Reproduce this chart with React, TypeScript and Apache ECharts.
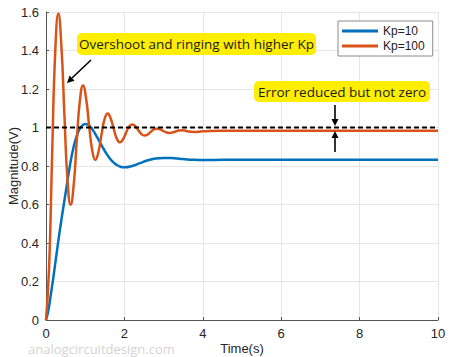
import React, { useEffect, useRef } from "react";
import * as echarts from "echarts";

// Time (s) and magnitude (V)
const blueT = [0, 0.05, 0.1, 0.2, 0.3, 0.4, 0.5, 0.6, 0.7, 0.8, 0.9, 1.0, 1.1, 1.2, 1.3, 1.4, 1.5, 1.6, 1.7, 1.8, 1.9, 2.0, 2.2, 2.4, 2.6, 2.8, 3.0, 3.2, 3.4, 3.6, 3.8, 4.0, 4.5, 5, 6, 7, 8, 9, 10];
const blueV = [0, 0.04, 0.1, 0.24, 0.39, 0.53, 0.66, 0.79, 0.895, 0.965, 1.005, 1.018, 1.01, 0.985, 0.951, 0.914, 0.878, 0.847, 0.823, 0.806, 0.796, 0.793, 0.8, 0.815, 0.83, 0.839, 0.842, 0.841, 0.838, 0.834, 0.832, 0.831, 0.832, 0.833, 0.833, 0.833, 0.833, 0.833, 0.833];

const orangeT = [0, 0.079, 0.157, 0.236, 0.315, 0.393, 0.472, 0.55, 0.629, 0.708, 0.786, 0.865, 0.944, 1.022, 1.101, 1.18, 1.258, 1.337, 1.416, 1.494, 1.573, 1.651, 1.73, 1.809, 1.887, 1.966, 2.045, 2.123, 2.202, 2.281, 2.359, 2.438, 2.516, 2.595, 2.674, 2.752, 2.831, 2.91, 2.988, 3.067, 3.146, 3.224, 3.303, 3.382, 3.46, 3.539, 3.617, 3.696, 3.775, 4.0, 4.5, 5, 6, 7, 8, 9, 10];
const orangeV = [0, 0.272, 0.864, 1.394, 1.592, 1.422, 1.053, 0.722, 0.599, 0.705, 0.935, 1.141, 1.218, 1.152, 1.009, 0.88, 0.832, 0.873, 0.963, 1.043, 1.073, 1.047, 0.991, 0.941, 0.923, 0.939, 0.974, 1.005, 1.016, 1.006, 0.985, 0.965, 0.958, 0.964, 0.978, 0.99, 0.994, 0.99, 0.982, 0.975, 0.972, 0.974, 0.979, 0.984, 0.986, 0.984, 0.98, 0.978, 0.977, 0.98, 0.983, 0.983, 0.983, 0.983, 0.983, 0.983, 0.983];

const refT = [0, 10];
const refV = [1, 1];

const seriesNames = ["Kp=10", "Kp=100"];
const xTicks = { min: 0, max: 10, interval: 2 };
const yTicks = { min: 0, max: 1.6, interval: 0.2 };

const zip = (a: number[], b: number[]) => a.map((v, i) => [v, b[i]]);

export default function App() {
  const ref = useRef<HTMLDivElement>(null);
  useEffect(() => {
    if (!ref.current) return;
    const chart = echarts.init(ref.current, undefined, { renderer: "svg" });
    const annFont = '13.5px "Open Sans"';
    chart.setOption({
      animation: false,
      backgroundColor: "#ffffff",
      grid: { left: 46, right: 12, top: 12, bottom: 37, containLabel: false, outerBoundsMode: "none" },
      legend: {
        data: seriesNames.map((n) => ({ name: n, icon: "rect" })),
        orient: "vertical",
        left: 338,
        top: 21,
        itemWidth: 36,
        itemHeight: 3,
        itemGap: 3,
        padding: [4, 8, 4, 4],
        backgroundColor: "#ffffff",
        borderColor: "#8a8a8a",
        borderWidth: 1,
        borderRadius: 0,
        textStyle: { fontFamily: "Liberation Sans", fontSize: 12, color: "#222" },
      },
      xAxis: {
        type: "value",
        min: xTicks.min,
        max: xTicks.max,
        interval: xTicks.interval,
        name: "Time(s)",
        nameLocation: "middle",
        nameGap: 22,
        nameMoveOverlap: false,
        nameTextStyle: { fontFamily: "Liberation Sans", fontSize: 13, color: "#262626" },
        axisLine: { lineStyle: { color: "#555", width: 1 } },
        axisTick: { show: true, inside: true, length: 3, lineStyle: { color: "#555" } },
        axisLabel: { fontFamily: "Liberation Sans", fontSize: 13, color: "#262626", margin: 7 },
        splitLine: { show: true, lineStyle: { color: "#e6e6e6", width: 1 } },
      },
      yAxis: {
        type: "value",
        min: yTicks.min,
        max: yTicks.max,
        interval: yTicks.interval,
        name: "Magnitude(V)",
        nameLocation: "middle",
        nameGap: 26,
        nameMoveOverlap: false,
        nameTextStyle: { fontFamily: "Liberation Sans", fontSize: 13, color: "#262626" },
        axisLine: { show: true, lineStyle: { color: "#555", width: 1 } },
        axisTick: { show: true, inside: true, length: 3, lineStyle: { color: "#555" } },
        axisLabel: { fontFamily: "Liberation Sans", fontSize: 13, color: "#262626", margin: 7 },
        splitLine: { show: true, lineStyle: { color: "#e6e6e6", width: 1 } },
      },
      series: [
        {
          name: seriesNames[0],
          type: "line",
          data: zip(blueT, blueV),
          smooth: true,
          showSymbol: false,
          symbol: "none",
          color: "#0072BD",
          lineStyle: { color: "#0072BD", width: 2.5 },
        },
        {
          name: seriesNames[1],
          type: "line",
          data: zip(orangeT, orangeV),
          smooth: true,
          showSymbol: false,
          symbol: "none",
          color: "#D95319",
          lineStyle: { color: "#D95319", width: 2.5 },
        },
        {
          name: "ref",
          type: "line",
          data: zip(refT, refV),
          showSymbol: false,
          symbol: "none",
          color: "#000",
          lineStyle: { color: "#000", width: 2, type: [5, 3] },
          z: 5,
        },
      ],
      graphic: [
        {
          type: "text",
          x: 28,
          y: 349,
          style: { text: "analogcircuitdesign.com", fill: "#d4d4d4", font: '13px "Open Sans"', textAlign: "left", textVerticalAlign: "middle", align: "left", verticalAlign: "middle" },
        },
        { type: "rect", shape: { x: 77, y: 33, width: 239, height: 22, r: 5 }, style: { fill: "#FFEE00" }, z: 10 },
        {
          type: "text",
          x: 196.5,
          y: 44,
          z: 11,
          style: { text: "Overshoot and ringing with higher Kp", fill: "#1a1a1a", font: annFont, textAlign: "center", textVerticalAlign: "middle", align: "center", verticalAlign: "middle" },
        },
        { type: "line", shape: { x1: 91, y1: 60, x2: 72, y2: 78 }, style: { stroke: "#000", lineWidth: 1.6 }, z: 10 },
        { type: "polygon", shape: { points: [[67, 83], [74.5, 80.7], [69.6, 75.6]] }, style: { fill: "#000" }, z: 10 },
        { type: "rect", shape: { x: 254, y: 81, width: 176, height: 21, r: 5 }, style: { fill: "#FFEE00" }, z: 10 },
        {
          type: "text",
          x: 342,
          y: 91.5,
          z: 11,
          style: { text: "Error reduced but not zero", fill: "#1a1a1a", font: annFont, textAlign: "center", textVerticalAlign: "middle", align: "center", verticalAlign: "middle" },
        },
        { type: "line", shape: { x1: 335, y1: 105, x2: 335, y2: 120 }, style: { stroke: "#000", lineWidth: 1.6 }, z: 10 },
        { type: "polygon", shape: { points: [[335, 126], [331.5, 119], [338.5, 119]] }, style: { fill: "#000" }, z: 10 },
        { type: "line", shape: { x1: 335, y1: 152, x2: 335, y2: 137 }, style: { stroke: "#000", lineWidth: 1.6 }, z: 10 },
        { type: "polygon", shape: { points: [[335, 131], [331.5, 138], [338.5, 138]] }, style: { fill: "#000" }, z: 10 },
      ],
    });
    return () => chart.dispose();
  }, []);
  return <div ref={ref} style={{ width: 450, height: 357, position: "absolute", left: 0, top: 0 }} />;
}
